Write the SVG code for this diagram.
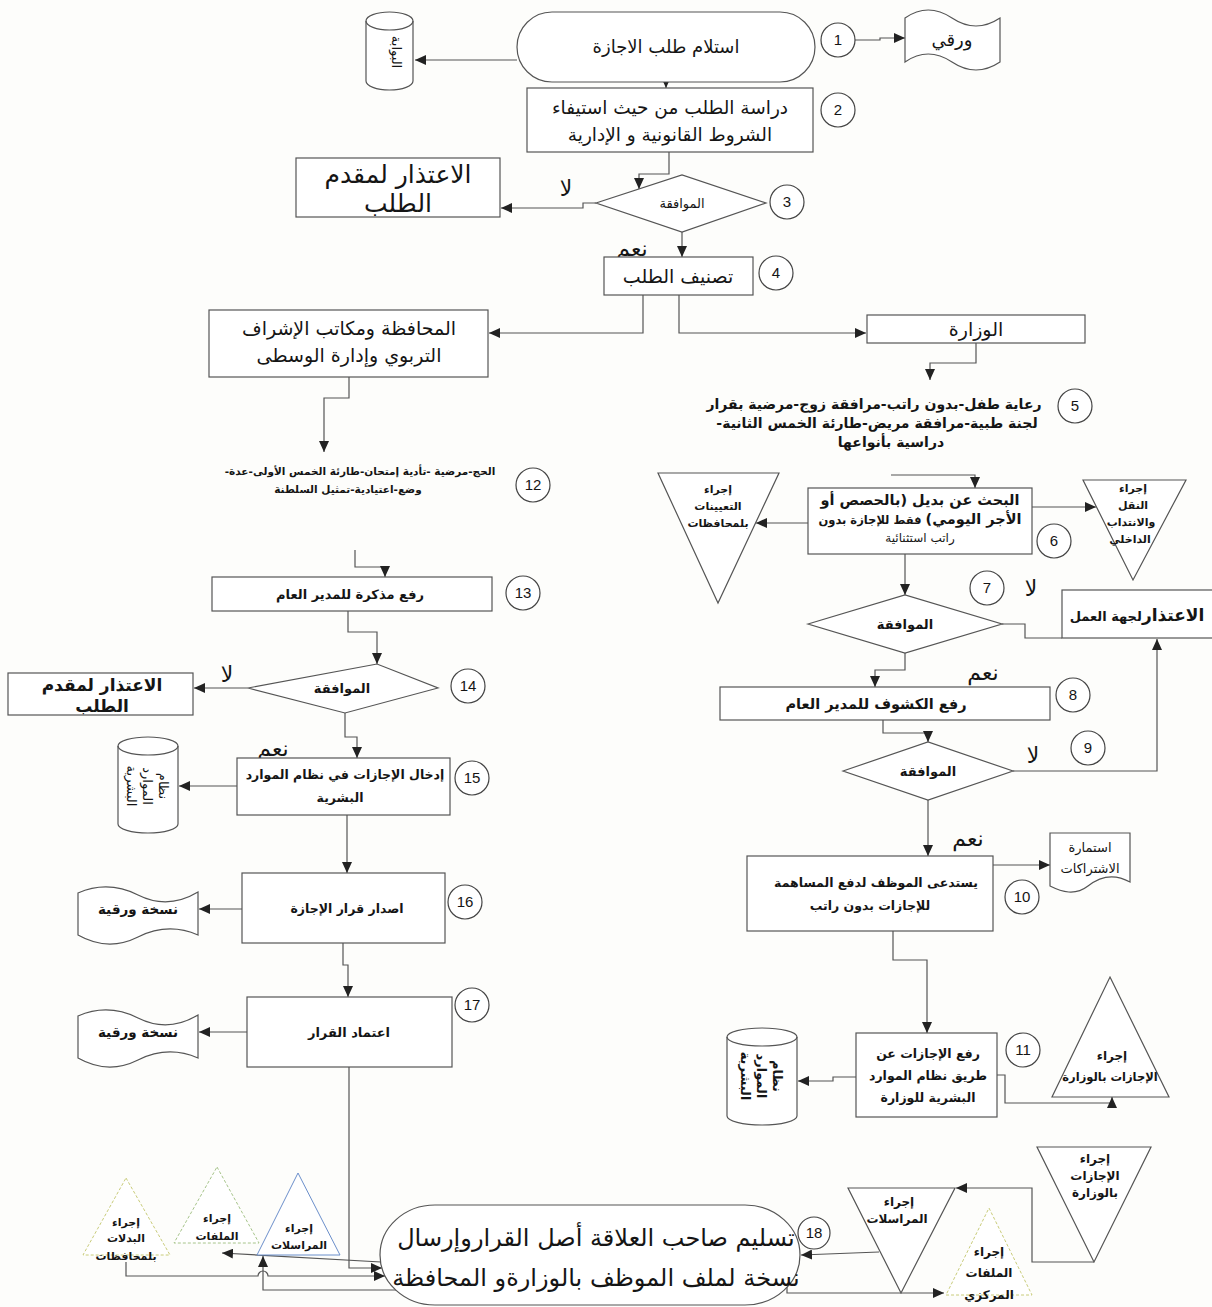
<svg xmlns="http://www.w3.org/2000/svg" width="1212" height="1307" viewBox="0 0 1212 1307">
<defs>
<marker id="ah" markerUnits="userSpaceOnUse" markerWidth="12" markerHeight="10" refX="11" refY="5" orient="auto"><path d="M0,0 L11,5 L0,10 z" fill="#222"/></marker>
<style>
.b{fill:#fff;stroke:#555;stroke-width:1.2}
.c{fill:#fff;stroke:#444;stroke-width:1.2}
.l{fill:none;stroke:#555;stroke-width:1.2}
.a{marker-end:url(#ah)}
text{font-family:"DejaVu Sans","Noto Sans",sans-serif;fill:#151515}
.t{text-anchor:middle;direction:rtl}
.n{font-family:"Liberation Sans",Arial,sans-serif;font-size:15px;text-anchor:middle}
.bd{font-weight:bold}
.yn{font-size:22px;text-anchor:middle}
</style>
</defs>
<rect width="1212" height="1307" fill="#fdfdfb"/>

<g id="connectors">
<path class="l a" d="M517,60 H415"/>
<path class="l a" d="M855,40 H880 V38 H905"/>
<path class="l a" d="M666,82 V88"/>
<path class="l a" d="M669,152 V174 H639 V189"/>
<path class="l a" d="M596,203 H583 V208 H501"/>
<path class="l a" d="M682,232 V257"/>
<path class="l a" d="M643,295 V333 H489"/>
<path class="l a" d="M679,295 V333 H866"/>
<path class="l a" d="M349,377 V398 H324 V452"/>
<path class="l a" d="M976,343 V363 H930 V380"/>
<path class="l a" d="M891,475 H975 V488"/>
<path class="l a" d="M808,523 H756"/>
<path class="l a" d="M1032,507 H1096"/>
<path class="l a" d="M905,554 V595"/>
<path class="l" d="M1002,624 H1025 V638 H1062"/>
<path class="l a" d="M905,653 V670 H875 V687"/>
<path class="l a" d="M883,720 V733 H928 V742"/>
<path class="l a" d="M1013,771 H1157 V639"/>
<path class="l a" d="M928,800 V856"/>
<path class="l a" d="M993,865 H1050"/>
<path class="l a" d="M893,931 V960 H927 V1033"/>
<path class="l a" d="M856,1077 H833 V1081 H798"/>
<path class="l a" d="M997,1075 H1005 V1103 H1112 V1097"/>
<path class="l a" d="M355,550 V567 H385 V577"/>
<path class="l a" d="M348,611 V632 H377 V664"/>
<path class="l a" d="M248,688 H194"/>
<path class="l a" d="M345,713 V737 H357 V758"/>
<path class="l a" d="M237,786 H179"/>
<path class="l a" d="M347,815 V873"/>
<path class="l a" d="M242,909 H199"/>
<path class="l a" d="M343,943 V965 H348 V997"/>
<path class="l a" d="M247,1032 H199"/>
<path class="l a" d="M349,1067 V1268 H382"/>
<path class="l a" d="M381,1262 L222,1253"/>
<path class="l a" d="M126,1262 V1276 H258 A5,5 0 0 1 268,1276 H385"/>
<path class="l a" d="M396,1290 H263 V1256"/>
<path class="l a" d="M879,1252 L801,1255"/>
<path class="l a" d="M1094,1262 H1032 V1188 H956"/>
<path class="l a" d="M787,1287 V1293 H944"/>
</g>

<g id="portal">
<path class="b" d="M366,21 A23.5,9 0 0 1 413,21 V81 A23.5,9 0 0 1 366,81 Z"/>
<path class="l" d="M366,21 A23.5,9 0 0 0 413,21"/>
<text class="t" font-size="13" transform="translate(392,52) rotate(90)">البوابة</text>
</g>

<g id="n1">
<rect class="b" x="517" y="12" width="298" height="70" rx="35"/>
<text class="t" font-size="18" x="666" y="53">استلام طلب الاجازة</text>
</g>
<g id="c1"><circle class="c" cx="838" cy="40" r="17"/><text class="n" x="838" y="45">1</text></g>

<g id="paper">
<path class="b" d="M905,18 Q928,2 952,18 T1000,18 V62 Q976,78 952,62 T905,62 Z"/>
<text class="t" font-size="18" x="952" y="46">ورقي</text>
</g>

<g id="n2">
<rect class="b" x="527" y="88" width="286" height="64"/>
<text class="t" font-size="18.5" x="670" y="114">دراسة الطلب من حيث استيفاء</text>
<text class="t" font-size="18.5" x="670" y="141">الشروط القانونية و الإدارية</text>
</g>
<g id="c2"><circle class="c" cx="838" cy="110" r="17"/><text class="n" x="838" y="115">2</text></g>

<g id="apology3">
<rect class="b" x="296" y="158" width="204" height="59"/>
<text class="t" font-size="25" x="398" y="183">الاعتذار لمقدم</text>
<text class="t" font-size="25" x="398" y="212">الطلب</text>
</g>

<g id="n3">
<polygon class="b" points="596,203 682,175 766,203 682,232"/>
<text class="t" font-size="13" x="682" y="208">الموافقة</text>
</g>
<g id="c3"><circle class="c" cx="787" cy="202" r="17"/><text class="n" x="787" y="207">3</text></g>
<text class="yn" x="566" y="196">لا</text>
<text class="yn" x="632" y="256">نعم</text>

<g id="n4">
<rect class="b" x="604" y="257" width="149" height="38"/>
<text class="t" font-size="19" x="678" y="283">تصنيف الطلب</text>
</g>
<g id="c4"><circle class="c" cx="776" cy="273" r="17"/><text class="n" x="776" y="278">4</text></g>

<g id="governorate">
<rect class="b" x="209" y="310" width="279" height="67"/>
<text class="t" font-size="19" x="349" y="335">المحافظة ومكاتب الإشراف</text>
<text class="t" font-size="19" x="349" y="362">التربوي وإدارة الوسطى</text>
</g>

<g id="ministry">
<rect class="b" x="867" y="315" width="218" height="28"/>
<text class="t" font-size="19" x="976" y="336">الوزارة</text>
</g>

<g id="n5">
<text class="t bd" font-size="14" x="874" y="409">رعاية طفل-بدون راتب-مرافقة زوج-مرضية بقرار</text>
<text class="t bd" font-size="14" x="877" y="428">لجنة طبية-مرافقة مريض-طارئة الخمس الثانية-</text>
<text class="t bd" font-size="14" x="891" y="447">دراسية بأنواعها</text>
</g>
<g id="c5"><circle class="c" cx="1075" cy="406" r="17"/><text class="n" x="1075" y="411">5</text></g>

<g id="n6">
<rect class="b" x="808" y="488" width="224" height="66"/>
<text class="t bd" font-size="14.5" x="920" y="505">البحث عن بديل (بالحصص أو</text>
<text class="t bd" x="920" y="524"><tspan font-size="14.5">الأجر اليومي)</tspan><tspan font-size="11.5"> فقط للإجازة بدون</tspan></text>
<text class="t" font-size="12" x="920" y="542">راتب استثنائية</text>
</g>
<g id="c6"><circle class="c" cx="1054" cy="541" r="17"/><text class="n" x="1054" y="546">6</text></g>

<g id="appointments">
<polygon class="b" points="658,473 779,473 718,603"/>
<text class="t bd" font-size="11" x="718" y="493">إجراء</text>
<text class="t bd" font-size="11" x="718" y="510">التعيينات</text>
<text class="t bd" font-size="11" x="718" y="527">بلمحافظات</text>
</g>

<g id="transfer">
<polygon class="b" points="1083,480 1186,480 1133,580"/>
<text class="t bd" font-size="11" x="1133" y="492">إجراء</text>
<text class="t bd" font-size="11" x="1133" y="509">النقل</text>
<text class="t bd" font-size="11" x="1131" y="526">والانتداب</text>
<text class="t bd" font-size="11" x="1130" y="543">الداخلي</text>
</g>

<g id="n7">
<polygon class="b" points="808,624 905,595 1002,624 905,653"/>
<text class="t bd" font-size="13" x="905" y="629">الموافقة</text>
</g>
<g id="c7"><circle class="c" cx="987" cy="588" r="17"/><text class="n" x="987" y="593">7</text></g>
<text class="yn" x="1031" y="596">لا</text>

<g id="apologyWork">
<rect class="b" x="1062" y="590" width="160" height="48"/>
<text class="t bd" x="1137" y="621"><tspan font-size="17">الاعتذار</tspan><tspan font-size="13">لجهة العمل</tspan></text>
</g>

<text class="yn" x="983" y="680">نعم</text>
<g id="n8">
<rect class="b" x="720" y="687" width="330" height="33"/>
<text class="t bd" font-size="14.5" x="876" y="709">رفع الكشوف للمدير العام</text>
</g>
<g id="c8"><circle class="c" cx="1073" cy="695" r="17"/><text class="n" x="1073" y="700">8</text></g>

<g id="n9">
<polygon class="b" points="843,771 928,742 1013,771 928,800"/>
<text class="t bd" font-size="13" x="928" y="776">الموافقة</text>
</g>
<g id="c9"><circle class="c" cx="1088" cy="748" r="17"/><text class="n" x="1088" y="753">9</text></g>
<text class="yn" x="1033" y="763">لا</text>

<text class="yn" x="968" y="846">نعم</text>
<g id="n10">
<rect class="b" x="747" y="856" width="246" height="75"/>
<text class="t bd" font-size="12.5" x="876" y="887">يستدعى الموظف لدفع المساهمة</text>
<text class="t bd" font-size="12.5" x="870" y="910">للإجازات بدون راتب</text>
</g>
<g id="c10"><circle class="c" cx="1022" cy="897" r="17"/><text class="n" x="1022" y="902">10</text></g>

<g id="subsForm">
<path class="b" d="M1050,833 H1130 V882 C1112,872 1098,878 1088,886 C1075,896 1062,892 1050,886 Z"/>
<text class="t" font-size="13" x="1090" y="852">استمارة</text>
<text class="t" font-size="13" x="1090" y="873">الاشتراكات</text>
</g>

<g id="n11">
<rect class="b" x="856" y="1033" width="141" height="84"/>
<text class="t bd" font-size="12.5" x="928" y="1058">رفع الإجازات عن</text>
<text class="t bd" font-size="12.5" x="928" y="1080">طريق نظام الموارد</text>
<text class="t bd" font-size="12.5" x="928" y="1102">البشرية للوزارة</text>
</g>
<g id="c11"><circle class="c" cx="1023" cy="1050" r="17"/><text class="n" x="1023" y="1055">11</text></g>

<g id="leaveMinistryUp">
<polygon class="b" points="1110,977 1169,1097 1052,1097"/>
<text class="t bd" font-size="12" x="1112" y="1060">إجراء</text>
<text class="t bd" font-size="11.5" x="1110" y="1081">الإجازات بالوزارة</text>
</g>

<g id="hrCylinderRight">
<path class="b" d="M727,1037 A35,9 0 0 1 797,1037 V1116 A35,9 0 0 1 727,1116 Z"/>
<path class="l" d="M727,1037 A35,9 0 0 0 797,1037"/>
<text class="t bd" font-size="13" transform="translate(762,1076) rotate(90)"><tspan x="0" y="-11">نظام</tspan><tspan x="0" y="5">الموارد</tspan><tspan x="0" y="21">البشرية</tspan></text>
</g>

<g id="n12">
<text class="t bd" font-size="10.5" x="360" y="475">الحج-مرضية -تأدية إمتحان-طارئة الخمس الأولى-عدة-</text>
<text class="t bd" font-size="10.5" x="348" y="493">وضع-اعتيادية-تمثيل السلطنة</text>
</g>
<g id="c12"><circle class="c" cx="533" cy="485" r="17"/><text class="n" x="533" y="490">12</text></g>

<g id="n13">
<rect class="b" x="212" y="577" width="280" height="34"/>
<text class="t bd" font-size="13" x="350" y="599">رفع مذكرة للمدير العام</text>
</g>
<g id="c13"><circle class="c" cx="523" cy="593" r="17"/><text class="n" x="523" y="598">13</text></g>

<g id="n14">
<polygon class="b" points="248,688 377,664 438,688 345,713"/>
<text class="t bd" font-size="13" x="342" y="693">الموافقة</text>
</g>
<g id="c14"><circle class="c" cx="468" cy="686" r="17"/><text class="n" x="468" y="691">14</text></g>
<text class="yn" x="227" y="682">لا</text>

<g id="apology14">
<rect class="b" x="8" y="673" width="185" height="42"/>
<text class="t bd" font-size="17" x="102" y="691">الاعتذار لمقدم</text>
<text class="t bd" font-size="17" x="102" y="712">الطلب</text>
</g>

<text class="yn" x="273" y="756">نعم</text>
<g id="n15">
<rect class="b" x="237" y="758" width="213" height="57"/>
<text class="t bd" font-size="12.5" x="345" y="779">إدخال الإجازات في نظام الموارد</text>
<text class="t bd" font-size="12.5" x="340" y="802">البشرية</text>
</g>
<g id="c15"><circle class="c" cx="472" cy="778" r="17"/><text class="n" x="472" y="783">15</text></g>

<g id="hrCylinderLeft">
<path class="b" d="M118,746 A30,9 0 0 1 178,746 V824 A30,9 0 0 1 118,824 Z"/>
<path class="l" d="M118,746 A30,9 0 0 0 178,746"/>
<text class="t" font-size="13" transform="translate(148,786) rotate(90)"><tspan x="0" y="-11">نظام</tspan><tspan x="0" y="5">الموارد</tspan><tspan x="0" y="21">البشرية</tspan></text>
</g>

<g id="n16">
<rect class="b" x="242" y="873" width="203" height="70"/>
<text class="t bd" font-size="12.5" x="347" y="913">اصدار قرار الإجازة</text>
</g>
<g id="c16"><circle class="c" cx="465" cy="902" r="17"/><text class="n" x="465" y="907">16</text></g>

<g id="copy16">
<path class="b" d="M78,893 Q108,880 138,895 T198,892 V935 Q168,922 138,937 T78,935 Z"/>
<text class="t bd" font-size="13.5" x="138" y="914">نسخة ورقية</text>
</g>

<g id="n17">
<rect class="b" x="247" y="997" width="205" height="70"/>
<text class="t bd" font-size="13" x="349" y="1037">اعتماد القرار</text>
</g>
<g id="c17"><circle class="c" cx="472" cy="1005" r="17"/><text class="n" x="472" y="1010">17</text></g>

<g id="copy17">
<path class="b" d="M78,1016 Q108,1003 138,1018 T198,1015 V1058 Q168,1045 138,1060 T78,1058 Z"/>
<text class="t bd" font-size="13.5" x="138" y="1037">نسخة ورقية</text>
</g>

<g id="allowances">
<polygon points="126,1178 170,1255 83,1255" fill="#fff" stroke="#c9cc7a" stroke-width="1" stroke-dasharray="3,2"/>
<text class="t bd" font-size="11" x="126" y="1226">إجراء</text>
<text class="t bd" font-size="11" x="126" y="1242">البدلات</text>
<text class="t bd" font-size="11" x="126" y="1260">بلمحافظات</text>
</g>

<g id="filesLeft">
<polygon points="217,1167 259,1243 174,1243" fill="#fff" stroke="#a6c48a" stroke-width="1" stroke-dasharray="3,2"/>
<text class="t bd" font-size="11" x="217" y="1222">إجراء</text>
<text class="t bd" font-size="11" x="217" y="1240">الملفات</text>
</g>

<g id="corrLeft">
<polygon points="298,1173 340,1255 257,1255" fill="#fff" stroke="#6b8fcb" stroke-width="1"/>
<text class="t bd" font-size="11" x="299" y="1232">إجراء</text>
<text class="t bd" font-size="11" x="299" y="1249">المراسلات</text>
</g>

<g id="n18">
<rect class="b" x="380" y="1205" width="420" height="100" rx="55" ry="50"/>
<text class="t" font-size="24" x="596" y="1246">تسليم صاحب العلاقة أصل القراروإرسال</text>
<text class="t" font-size="24" x="596" y="1286">نسخة لملف الموظف بالوزارةو المحافظة</text>
</g>
<g id="c18"><circle class="c" cx="814" cy="1233" r="16"/><text class="n" x="814" y="1238">18</text></g>

<g id="corrRight">
<polygon class="b" points="848,1188 955,1188 901,1293"/>
<text class="t bd" font-size="12" x="899" y="1206">إجراء</text>
<text class="t bd" font-size="12" x="897" y="1223">المراسلات</text>
</g>

<g id="leaveMinistryDown">
<polygon class="b" points="1037,1147 1151,1147 1094,1262"/>
<text class="t bd" font-size="12" x="1095" y="1163">إجراء</text>
<text class="t bd" font-size="12" x="1095" y="1180">الإجازات</text>
<text class="t bd" font-size="12" x="1095" y="1197">بالوزارة</text>
</g>

<g id="filesCentral">
<polygon points="989,1208 1032,1295 946,1295" fill="#fff" stroke="#c9cc7a" stroke-width="1" stroke-dasharray="3,2"/>
<text class="t bd" font-size="12" x="989" y="1256">إجراء</text>
<text class="t bd" font-size="12" x="989" y="1277">الملفات</text>
<text class="t bd" font-size="12" x="989" y="1299">المركزي</text>
</g>
</svg>
